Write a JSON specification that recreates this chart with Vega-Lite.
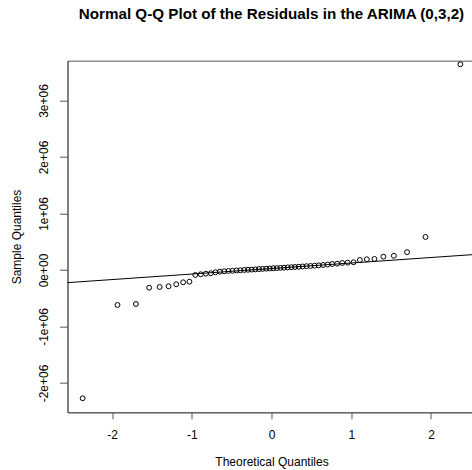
{
  "$schema": "https://vega.github.io/schema/vega-lite/v6.json",
  "width": 408,
  "height": 351.6,
  "autosize": {"type": "none"},
  "padding": {"left": 67.5, "top": 60.7, "right": 0, "bottom": 58},
  "background": "white",
  "config": {
    "font": "Liberation Sans",
    "view": {"stroke": "#555555", "strokeWidth": 1},
    "axis": {"grid": false, "domainColor": "#555555", "tickColor": "#555555", "labelColor": "#000000", "titleColor": "#000000", "labelFontSize": 12, "titleFontSize": 12, "titleFontWeight": "normal", "labelFont": "Liberation Sans", "titleFont": "Liberation Sans"}
  },
  "title": {
    "text": "Normal Q-Q Plot of the Residuals in the ARIMA (0,3,2)",
    "font": "Liberation Sans",
    "fontSize": 15.2,
    "fontWeight": "bold",
    "color": "#000000",
    "anchor": "middle",
    "frame": "group",
    "offset": 38
  },
  "layer": [
    {
      "data": {
        "values": [
          {"theoretical": -2.368, "sample": -2271000},
          {"theoretical": -1.931, "sample": -619500},
          {"theoretical": -1.700, "sample": -601800},
          {"theoretical": -1.534, "sample": -313300},
          {"theoretical": -1.403, "sample": -300900},
          {"theoretical": -1.291, "sample": -288500},
          {"theoretical": -1.195, "sample": -253100},
          {"theoretical": -1.108, "sample": -217700},
          {"theoretical": -1.029, "sample": -207100},
          {"theoretical": -0.955, "sample": -88500},
          {"theoretical": -0.887, "sample": -76100},
          {"theoretical": -0.823, "sample": -65500},
          {"theoretical": -0.761, "sample": -58400},
          {"theoretical": -0.703, "sample": -40700},
          {"theoretical": -0.647, "sample": -30100},
          {"theoretical": -0.592, "sample": -23000},
          {"theoretical": -0.540, "sample": -17700},
          {"theoretical": -0.489, "sample": -14200},
          {"theoretical": -0.439, "sample": -8800},
          {"theoretical": -0.390, "sample": -5300},
          {"theoretical": -0.342, "sample": 0},
          {"theoretical": -0.295, "sample": 3500},
          {"theoretical": -0.249, "sample": 7100},
          {"theoretical": -0.203, "sample": 10600},
          {"theoretical": -0.157, "sample": 15900},
          {"theoretical": -0.112, "sample": 19500},
          {"theoretical": -0.067, "sample": 23000},
          {"theoretical": -0.022, "sample": 26500},
          {"theoretical": 0.022, "sample": 30100},
          {"theoretical": 0.067, "sample": 33600},
          {"theoretical": 0.112, "sample": 37200},
          {"theoretical": 0.157, "sample": 40700},
          {"theoretical": 0.203, "sample": 46000},
          {"theoretical": 0.249, "sample": 49600},
          {"theoretical": 0.295, "sample": 53100},
          {"theoretical": 0.342, "sample": 56600},
          {"theoretical": 0.390, "sample": 61900},
          {"theoretical": 0.439, "sample": 67300},
          {"theoretical": 0.489, "sample": 70800},
          {"theoretical": 0.540, "sample": 76100},
          {"theoretical": 0.592, "sample": 81400},
          {"theoretical": 0.647, "sample": 88500},
          {"theoretical": 0.703, "sample": 95600},
          {"theoretical": 0.761, "sample": 106200},
          {"theoretical": 0.823, "sample": 111500},
          {"theoretical": 0.887, "sample": 123900},
          {"theoretical": 0.955, "sample": 129200},
          {"theoretical": 1.029, "sample": 136300},
          {"theoretical": 1.108, "sample": 177000},
          {"theoretical": 1.195, "sample": 189400},
          {"theoretical": 1.291, "sample": 194700},
          {"theoretical": 1.403, "sample": 235400},
          {"theoretical": 1.534, "sample": 251300},
          {"theoretical": 1.700, "sample": 315000},
          {"theoretical": 1.931, "sample": 584100},
          {"theoretical": 2.368, "sample": 3640700}
        ]
      },
      "mark": {"type": "point", "shape": "circle", "filled": false, "color": "#000000", "strokeWidth": 1, "size": 24, "opacity": 1},
      "encoding": {
        "x": {
          "field": "theoretical", "type": "quantitative",
          "scale": {"domain": [-2.558, 2.558], "nice": false, "zero": false},
          "axis": {"values": [-2, -1, 0, 1, 2], "labelExpr": "'' + datum.value", "tickSize": 6.5, "labelPadding": 11, "title": "Theoretical Quantiles", "titlePadding": 16}
        },
        "y": {
          "field": "sample", "type": "quantitative",
          "scale": {"domain": [-2519000, 3704000], "nice": false, "zero": false},
          "axis": {"values": [-2000000, -1000000, 0, 1000000, 2000000, 3000000], "labelExpr": "datum.value == 0 ? '0e+00' : (datum.value / 1000000) + 'e+06'", "labelAngle": -90, "labelAlign": "center", "labelBaseline": "bottom", "tickSize": 8, "labelPadding": 9, "title": "Sample Quantiles", "titlePadding": 14}
        }
      }
    },
    {
      "data": {
        "values": [
          {"theoretical": -2.558, "sample": -224200},
          {"theoretical": 2.558, "sample": 275200}
        ]
      },
      "mark": {"type": "line", "color": "#000000", "strokeWidth": 1},
      "encoding": {
        "x": {"field": "theoretical", "type": "quantitative"},
        "y": {"field": "sample", "type": "quantitative"}
      }
    }
  ]
}
